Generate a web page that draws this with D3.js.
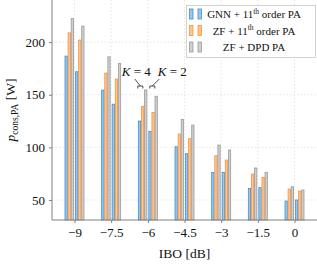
<!DOCTYPE html>
<html>
<head>
<meta charset="utf-8">
<script src="https://cdn.jsdelivr.net/npm/d3@7"></script>
<style>
  body { margin: 0; background: #fff; }
  svg { display: block; font-family: "Liberation Serif", "DejaVu Serif", serif; }
</style>
</head>
<body>
<div id="chart"></div>
<script>
// Valeurs
const ibo = [-9, -7.5, -6, -4.5, -3, -1.5, 0];
const yTicks = [50, 100, 150, 200];
const xTickLabels = ["\u22129", "\u22127.5", "\u22126", "\u22124.5", "\u22123", "\u22121.5", "0"];

// K = 4
const gnnK4 = [186.7, 154.4, 125.0, 100.6, 76.3, 61.1, 49.0];
const zfK4  = [208.8, 170.6, 139.0, 112.7, 92.1, 74.7, 60.4];
const dpdK4 = [222.5, 186.0, 154.5, 126.6, 102.2, 80.4, 62.6];
// K = 2
const gnnK2 = [171.8, 141.0, 115.2, 94.0, 76.3, 61.7, 50.0];
const zfK2  = [201.9, 164.9, 133.2, 108.3, 88.0, 71.5, 58.5];
const dpdK2 = [215.2, 179.8, 148.5, 121.2, 97.5, 76.3, 59.5];

const strokeColors = ["#3f8fcf", "#f5943c", "#9a9a9a"];
const fillColors = ["#9cc7ea", "#ffc48f", "#cfcfcf"];

const W = 317, H = 266;
const FONT = '"Liberation Serif", "DejaVu Serif", serif';
const svg = d3.select("#chart").append("svg").attr("width", W).attr("height", H);

// Échelles
const x = d3.scaleLinear().domain([-9.92, 0.92]).range([52, 317]);
const y = d3.scaleLinear().domain([31, 240]).range([220, 0]);

// Grille
svg.append("g").selectAll("line").data(yTicks).enter().append("line")
    .attr("x1", 52).attr("x2", W)
    .attr("y1", d => y(d)).attr("y2", d => y(d))
    .attr("stroke", "#dedede").attr("stroke-width", 0.8).attr("stroke-dasharray", "1.5,2");
svg.append("g").selectAll("line").data(ibo).enter().append("line")
    .attr("x1", d => x(d)).attr("x2", d => x(d))
    .attr("y1", 0).attr("y2", 220)
    .attr("stroke", "#dedede").attr("stroke-width", 0.8).attr("stroke-dasharray", "1.5,2");

// Barres
const bw = 3.1;
const groups = [
  { k: 4, vals: [gnnK4, zfK4, dpdK4] },
  { k: 2, vals: [gnnK2, zfK2, dpdK2] }
];
const bars = [];
groups.forEach(g => {
  g.vals.forEach((arr, s) => {
    arr.forEach((v, i) => {
      const off = g.k === 4 ? -0.6 - 3 * bw + s * bw : 0.6 + s * bw;
      bars.push({ x: ibo[i], v: v, s: s, off: off });
    });
  });
});
svg.append("g").selectAll("rect").data(bars).enter().append("rect")
    .attr("x", d => x(d.x) + d.off + 0.4)
    .attr("width", bw - 0.8)
    .attr("y", d => y(d.v))
    .attr("height", d => 220 - y(d.v))
    .attr("fill", d => fillColors[d.s])
    .attr("stroke", d => strokeColors[d.s])
    .attr("stroke-width", 0.8);

// Axes
const yAxis = d3.axisLeft(y).tickValues(yTicks).tickSize(3).tickPadding(4);
const gy = svg.append("g").attr("transform", "translate(52,0)").call(yAxis)
    .attr("font-family", FONT);
gy.select(".domain").attr("stroke", "#808080").attr("d", "M0,0V220");
gy.selectAll(".tick line").attr("stroke", "#808080");
gy.selectAll("text").attr("font-size", 13).attr("fill", "#111");

const xAxis = d3.axisBottom(x).tickValues(ibo).tickSize(3).tickPadding(5)
    .tickFormat((d, i) => xTickLabels[i]);
const gx = svg.append("g").attr("transform", "translate(0,220)").call(xAxis)
    .attr("font-family", FONT);
gx.select(".domain").attr("stroke", "#808080").attr("d", "M52,0H317");
gx.selectAll(".tick line").attr("stroke", "#808080");
gx.selectAll("text").attr("font-size", 13).attr("fill", "#111");

// Titres des axes
svg.append("text")
    .attr("x", 184.5).attr("y", 257.5)
    .attr("text-anchor", "middle").attr("font-size", 13.5).attr("fill", "#111")
    .text("IBO [dB]");

const yl = svg.append("text")
    .attr("transform", "translate(15,110) rotate(-90)")
    .attr("text-anchor", "middle").attr("font-size", 13.5).attr("fill", "#111");
yl.append("tspan").attr("font-style", "italic").text("p");
yl.append("tspan").attr("font-size", 9.5).attr("dy", 3).text("cons,PA");
yl.append("tspan").attr("dy", -3).text(" [W]");

// Annotations K = 4 / K = 2
const annots = [
  { label: "4", lx: x(-6) + 3, bx: x(-6) - 7.5, tx: x(-6) - 13, anchor: "end" },
  { label: "2", lx: x(-6) + 10, bx: x(-6) + 4.5, tx: x(-6) + 11.5, anchor: "start" }
];
const by = y(dpdK4[2]) - 4;
annots.forEach(a => {
  const t = svg.append("text")
      .attr("x", a.lx).attr("y", 76).attr("text-anchor", a.anchor)
      .attr("font-size", 13).attr("fill", "#111");
  t.append("tspan").attr("font-style", "italic").text("K");
  t.append("tspan").text(" = " + a.label);
  svg.append("path")
      .attr("d", `M${a.bx - 2.5},${by + 2.5}V${by}H${a.bx + 2.5}V${by + 2.5}M${a.bx},${by}L${a.tx},79`)
      .attr("fill", "none").attr("stroke", "#222").attr("stroke-width", 0.8);
});

// Légende
const legend = svg.append("g");
legend.append("rect")
    .attr("x", 186.5).attr("y", 5.5).attr("width", 129).attr("height", 52)
    .attr("fill", "#fff").attr("stroke", "#c8c8c8").attr("stroke-width", 0.8);
const legendRows = [
  { main: "GNN + 11", sup: "th", tail: " order PA" },
  { main: "ZF + 11", sup: "th", tail: " order PA" },
  { main: "ZF + DPD PA", sup: null, tail: "" }
];
legendRows.forEach((r, i) => {
  const cy = 14 + i * 16.5;
  [0, 1].forEach(j => {
    legend.append("rect")
        .attr("x", 189.5 + j * 8.5).attr("y", cy - 5).attr("width", 3.5).attr("height", 10)
        .attr("fill", fillColors[i]).attr("stroke", strokeColors[i]).attr("stroke-width", 0.8);
  });
  const t = legend.append("text")
      .attr("x", 254).attr("y", cy + 4).attr("text-anchor", "middle")
      .attr("font-size", 11).attr("fill", "#111");
  t.append("tspan").text(r.main);
  if (r.sup) {
    t.append("tspan").attr("font-size", 7.5).attr("dy", -4.5).text(r.sup);
    t.append("tspan").attr("dy", 4.5).text(r.tail);
  }
});
</script>
</body>
</html>
